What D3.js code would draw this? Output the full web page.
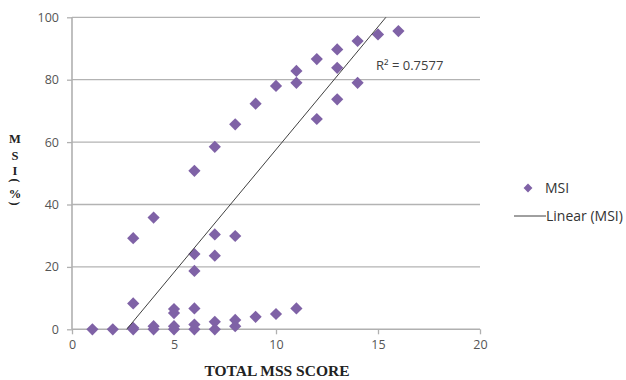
<!DOCTYPE html>
<html><head><meta charset="utf-8">
<script src="https://cdn.jsdelivr.net/npm/d3@7"></script>
<style>body{margin:0;background:#fff}svg{display:block}</style>
</head><body><svg id="c" width="626" height="380"></svg>
<script>
const scoreX = [1,2,3,3,3,3,4,4,4,5,5,5,5,6,6,6,6,6,6,7,7,7,7,7,8,8,8,8,9,9,10,10,11,11,11,12,12,13,13,13,14,14,15,16];
const msiY   = [0,0,0,0.5,8.3,29.2,0,1,35.8,0,1,5.2,6.5,0,1.5,6.7,18.7,24.1,50.8,0,2.4,23.6,30.4,58.5,1,3,29.9,65.7,4,72.3,4.9,78,6.7,79,82.8,67.4,86.6,73.7,83.8,89.7,79,92.4,94.5,95.6];
const xTicks = [0,5,10,15,20];
const yTicks = [0,20,40,60,80,100];
// linear trendline: [slope, intercept]
const trendCoef = [7.87, -21.1];
const r2Label = "R² = 0.7577";

const svg = d3.select("#c");
const x = d3.scaleLinear().domain([0,20]).range([72,480]);
const y = d3.scaleLinear().domain([0,100]).range([329.3,17.3]);

// gridlines
svg.append("g").selectAll("line").data(yTicks.filter(d=>d>0)).join("line")
  .attr("x1",x(0)).attr("x2",x(20)).attr("y1",d=>y(d)).attr("y2",d=>y(d))
  .attr("stroke","#b3b3b3").attr("stroke-width",1.3);

// axes
const xa = svg.append("g").attr("transform",`translate(0,${y(0)})`)
  .call(d3.axisBottom(x).tickValues(xTicks).tickSize(5).tickPadding(6));
const ya = svg.append("g").attr("transform",`translate(${x(0)},0)`)
  .call(d3.axisLeft(y).tickValues(yTicks).tickSize(5).tickPadding(8));
[xa,ya].forEach(a=>{
  a.select(".domain").attr("stroke","#b0b0b0").attr("stroke-width",1.6);
  a.selectAll(".tick line").attr("stroke","#b0b0b0").attr("stroke-width",1.3);
  a.selectAll("text").attr("fill","#555").style("font-family","'Open Sans', sans-serif").style("font-size","12.5px");
});
ya.select(".domain").attr("d",`M0,${y(100)}V${y(0)}`);
xa.select(".domain").attr("d",`M0,0H${x(20)-x(0)}`).attr("transform",`translate(${x(0)},0)`);

// points
const diamond = d3.symbol().type(d3.symbolDiamond2).size(95);
svg.append("g").selectAll("path").data(scoreX.map((d,i)=>[d,msiY[i]])).join("path")
  .attr("d",diamond).attr("transform",d=>`translate(${x(d[0])},${y(d[1])})`)
  .attr("fill","#7f62a6");

// linear trendline, over the data's x range, clipped to the plot's y range
const [slope, icpt] = trendCoef;
const xmin = d3.min(scoreX), xmax = d3.max(scoreX);
const xa0 = Math.max(xmin,(0-icpt)/slope), xa1 = Math.min(xmax,(100-icpt)/slope);
svg.append("line").attr("x1",x(xa0)).attr("y1",y(slope*xa0+icpt)).attr("x2",x(xa1)).attr("y2",y(slope*xa1+icpt))
  .attr("stroke","#404040").attr("stroke-width",1);
svg.append("text").attr("x",376).attr("y",70).text(r2Label)
  .attr("fill","#404040").style("font-family","'Open Sans', sans-serif").style("font-size","13px");

// axis titles
svg.append("text").attr("x",277).attr("y",376).attr("text-anchor","middle").text("TOTAL MSS SCORE")
  .style("font-family","'Liberation Serif', serif").style("font-weight","bold").style("font-size","15.5px").attr("fill","#222");
const yt = svg.append("g").style("font-family","'Liberation Serif', serif").style("font-weight","bold").style("font-size","12.5px").attr("fill","#222");
[["M",143],["S",160],["I",175],["%",198]].forEach(([t,py])=>yt.append("text").attr("x",15).attr("y",py).attr("text-anchor","middle").text(t));
yt.append("text").attr("transform","translate(15,180.5) rotate(90)").attr("text-anchor","middle").attr("dominant-baseline","central").style("font-size","12px").text("(");
yt.append("text").attr("transform","translate(15,203.5) rotate(90)").attr("text-anchor","middle").attr("dominant-baseline","central").style("font-size","12px").text(")");

// legend
const lg = svg.append("g").style("font-family","'Open Sans', sans-serif").style("font-size","14px").attr("fill","#333");
lg.append("path").attr("d",d3.symbol().type(d3.symbolDiamond2).size(50)).attr("transform","translate(528,188)").attr("fill","#7f62a6");
lg.append("text").attr("x",545).attr("y",193).text("MSI");
lg.append("line").attr("x1",514).attr("x2",546).attr("y1",216).attr("y2",216).attr("stroke","#404040");
lg.append("text").attr("x",546).attr("y",221).text("Linear (MSI)");
</script></body></html>
